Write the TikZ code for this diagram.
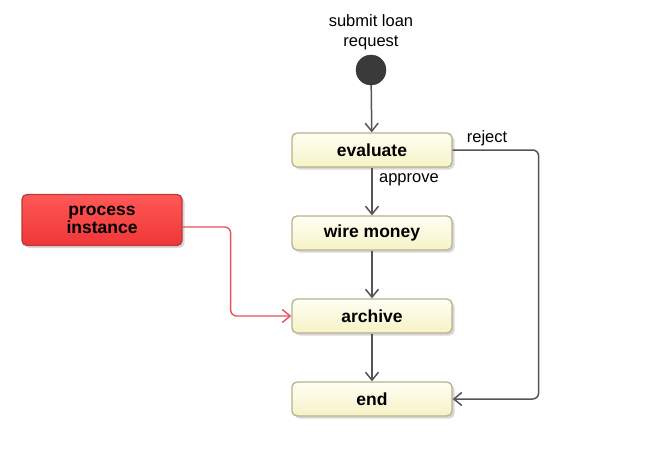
\documentclass[tikz,border=0pt]{standalone}
\usepackage{fontspec}
\setmainfont{Liberation Sans}
\usetikzlibrary{arrows.meta,positioning,shadows}
\definecolor{ActTop}{HTML}{FFFFF4}
\definecolor{ActBottom}{HTML}{F6F2C6}
\definecolor{ActLine}{HTML}{B5B28E}
\definecolor{FlowGray}{HTML}{555555}
\definecolor{InstRed}{HTML}{FF3A3A}
\definecolor{InstLine}{HTML}{B83A3A}
\definecolor{InstFlow}{HTML}{E8505A}
\definecolor{StartDot}{HTML}{3A3A3A}

\begin{document}
\begin{tikzpicture}[x=1pt,y=-1pt,
    act/.style={draw=ActLine,line width=1.3pt,rounded corners=5pt,
      top color=ActTop,bottom color=ActBottom,
      minimum width=160pt,minimum height=34pt,inner sep=2pt,
      font=\fontsize{17.5}{18}\selectfont\bfseries,
      drop shadow={shadow xshift=2.5pt,shadow yshift=-2.5pt,fill=black!30}},
    flow/.style={-{Straight Barb[length=8pt,width=13pt]},line width=1.5pt,FlowGray},
    lbl/.style={font=\fontsize{16.5}{20}\selectfont,text=black}]
    \useasboundingbox (0,0) rectangle (646,455);
    % start of the process
    \node[circle,fill=StartDot,draw=black!80,minimum size=30pt,inner sep=0pt,
      label={[lbl,align=center,yshift=1pt]above:submit loan\\request}] (start) at (371,70) {};
    % activities
    \node[act] (evaluate) at (372,150) {evaluate};
    \node[act] (wire) at (372,233) {wire money};
    \node[act] (archive) at (372,316) {archive};
    \node[act] (end) at (372,399) {end};
    \node[act,draw=InstLine,top color=InstRed!85!white,bottom color=InstRed!94!black,
      minimum height=51pt,align=center,font=\fontsize{17.5}{18}\selectfont\bfseries]
      (instance) at (102,220) {process\\instance};
    % flows
    \draw[flow] (start) -- (evaluate);
    \draw[flow] (evaluate) -- node[lbl,right,pos=0.25,xshift=3pt]{approve} (wire);
    \draw[flow] (wire) -- (archive);
    \draw[flow] (archive) -- (end);
    \draw[flow,rounded corners=6pt] (evaluate.east) -- node[lbl,above,pos=0.4]{reject} ++(86,0) |- (end.east);
    \draw[flow,InstFlow,line width=1.4pt,rounded corners=6pt] ([yshift=-7pt]instance.east) -- ++(48,0) |- (archive.west);
  \end{tikzpicture}
\end{document}
